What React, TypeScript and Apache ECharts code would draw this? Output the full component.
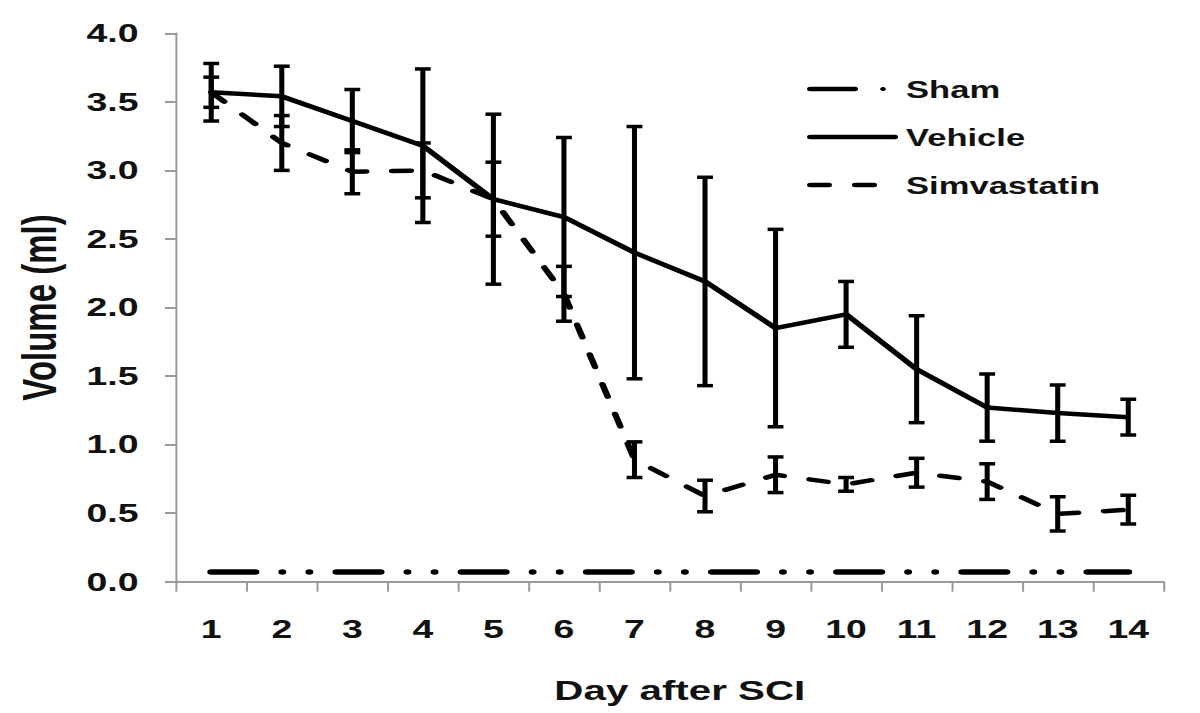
import React, { useEffect, useRef } from "react";
import * as echarts from "echarts";

const days = ["1", "2", "3", "4", "5", "6", "7", "8", "9", "10", "11", "12", "13", "14"];
const shamMean = [0.07, 0.07, 0.07, 0.07, 0.07, 0.07, 0.07, 0.07, 0.07, 0.07, 0.07, 0.07, 0.07, 0.07];
const vehicleMean = [3.57, 3.54, 3.36, 3.18, 2.79, 2.66, 2.4, 2.19, 1.85, 1.95, 1.55, 1.27, 1.23, 1.2];
const vehicleErr = [0.21, 0.22, 0.23, 0.56, 0.62, 0.58, 0.92, 0.76, 0.72, 0.24, 0.39, 0.245, 0.205, 0.13];
const simvaMean = [3.57, 3.2, 2.99, 3.0, 2.79, 2.1, 0.89, 0.625, 0.78, 0.71, 0.795, 0.73, 0.495, 0.525];
const simvaErr = [0.11, 0.2, 0.16, 0.2, 0.27, 0.2, 0.13, 0.115, 0.13, 0.05, 0.105, 0.13, 0.125, 0.105];
const yTicks = { min: 0, max: 4, interval: 0.5 };
const legendNames = ["Sham", "Vehicle", "Simvastatin"];
const xTitle = "Day after SCI";
const yTitle = "Volume (ml)";

// the reference image is horizontally stretched; we render narrower and stretch with CSS
const SX = 1.44;
const H = 713;
const W = 1200 / SX;

const FONT = "'Liberation Sans', Arial, Helvetica, sans-serif";

function errData(mean: number[], err: number[]) {
  return mean.map((m, i) => [i, m - err[i], m + err[i]]);
}

function errSeries(name: string, data: number[][]) {
  return {
    type: "custom",
    name,
    z: 3,
    renderItem: (params: any, api: any) => {
      const x = api.value(0);
      const lo = api.coord([x, api.value(1)]);
      const hi = api.coord([x, api.value(2)]);
      const hw = 5.5;
      const style = { stroke: "#000", lineWidth: 3.5, fill: "none" };
      return {
        type: "group",
        children: [
          { type: "line", shape: { x1: lo[0], y1: lo[1], x2: hi[0], y2: hi[1] }, style },
          { type: "line", shape: { x1: lo[0] - hw, y1: lo[1], x2: lo[0] + hw, y2: lo[1] }, style },
          { type: "line", shape: { x1: hi[0] - hw, y1: hi[1], x2: hi[0] + hw, y2: hi[1] }, style },
        ],
      };
    },
    data,
    silent: true,
  };
}

export default function App() {
  const ref = useRef<HTMLDivElement>(null);
  useEffect(() => {
    if (!ref.current) return;
    const chart = echarts.init(ref.current, null, { renderer: "svg" });
    const legY = [89, 137, 185];
    const legX0 = 562.7;
    const lw = 4.5;
    const legStyle = { stroke: "#000", lineWidth: lw, lineCap: "round" };
    chart.setOption({
      animation: false,
      backgroundColor: "#fff",
      grid: { left: 122.2, right: 25, top: 33.3, bottom: 131.3, containLabel: false },
      xAxis: {
        type: "category",
        data: days,
        boundaryGap: true,
        axisLine: { lineStyle: { color: "#9a9a9a", width: 2 } },
        axisTick: { show: true, length: 10, lineStyle: { color: "#9a9a9a", width: 1.4 } },
        axisLabel: { color: "#111", fontSize: 26, fontWeight: "bold", fontFamily: FONT, margin: 34 },
        name: xTitle,
        nameLocation: "middle",
        nameGap: 95,
        nameTextStyle: { color: "#111", fontSize: 28, fontWeight: "bold", fontFamily: FONT, padding: [0, 0, 0, 14] },
        splitLine: { show: false },
      },
      yAxis: {
        type: "value",
        min: yTicks.min,
        max: yTicks.max,
        interval: yTicks.interval,
        axisLine: { show: true, lineStyle: { color: "#9a9a9a", width: 1.4 } },
        axisTick: { show: true, length: 7.6, lineStyle: { color: "#9a9a9a", width: 2 } },
        axisLabel: {
          color: "#111",
          fontSize: 26,
          fontWeight: "bold",
          fontFamily: FONT,
          margin: 26,
          formatter: (v: number) => v.toFixed(1),
        },
        name: yTitle,
        nameLocation: "middle",
        nameRotate: 90,
        nameGap: 78,
        nameTextStyle: { color: "#111", fontSize: 33, fontWeight: "bold", fontFamily: FONT },
        splitLine: { show: false },
      },
      series: [
        {
          type: "line",
          name: legendNames[0],
          data: shamMean,
          symbol: "none",
          z: 2,
          lineStyle: { color: "#000", width: 5.5, type: [30.7, 18.65, 0.01, 18.8, 0.01, 18.75], cap: "round" },
        },
        {
          type: "line",
          name: legendNames[1],
          data: vehicleMean,
          symbol: "none",
          z: 2,
          lineStyle: { color: "#000", width: 4.5, type: "solid", join: "round" },
        },
        {
          type: "line",
          name: legendNames[2],
          data: simvaMean,
          symbol: "none",
          z: 2,
          lineStyle: { color: "#000", width: 4.5, type: [13, 18], cap: "round" },
        },
        errSeries("Vehicle SE", errData(vehicleMean, vehicleErr)),
        errSeries("Simvastatin SE", errData(simvaMean, simvaErr)),
      ],
      graphic: [
        { type: "line", shape: { x1: legX0, y1: legY[0], x2: 593.6, y2: legY[0] }, style: legStyle },
        { type: "circle", shape: { cx: 613.2, cy: legY[0], r: 2 }, style: { fill: "#000" } },
        { type: "line", shape: { x1: legX0, y1: legY[1], x2: 621.4, y2: legY[1] }, style: legStyle },
        { type: "line", shape: { x1: legX0, y1: legY[2], x2: 575.5, y2: legY[2] }, style: legStyle },
        { type: "line", shape: { x1: 593.9, y1: legY[2], x2: 606.8, y2: legY[2] }, style: legStyle },
        ...legendNames.map((n, i) => ({
          type: "text",
          x: 629.2,
          y: legY[i] + 1,
          style: {
            text: n,
            fill: "#111",
            fontSize: 24,
            fontWeight: "bold",
            fontFamily: FONT,
            verticalAlign: "middle",
            align: "left",
          },
        })),
      ],
    });
    return () => chart.dispose();
  }, []);
  return (
    <div
      ref={ref}
      style={{
        position: "absolute",
        left: 0,
        top: 0,
        width: W,
        height: H,
        transform: `scaleX(${SX})`,
        transformOrigin: "0 0",
      }}
    />
  );
}
